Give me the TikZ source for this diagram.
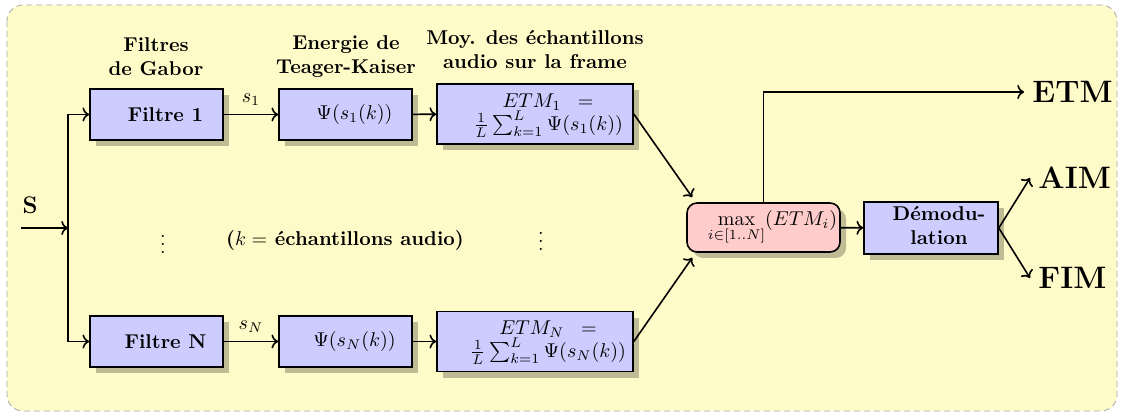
\documentclass[tikz,border=0pt]{standalone}
\usepackage{fontspec}
\usepackage{amsmath}
\usetikzlibrary{shadows,arrows.meta}
\definecolor{bgyellow}{RGB}{255,251,200}
\definecolor{boxblue}{RGB}{204,204,255}
\definecolor{boxpink}{RGB}{255,204,204}
\tikzset{
  blockbox/.style={draw=black, thick, fill=boxblue, inner sep=0pt,
    drop shadow={shadow xshift=3pt, shadow yshift=-3pt, fill=black, opacity=0.25}},
  maxbox/.style={blockbox, fill=boxpink, rounded corners=5pt},
  titletext/.style={align=center, font=\bfseries, inner sep=0pt},
  outtext/.style={font=\fontsize{15.5}{18}\selectfont\bfseries, inner sep=4pt, anchor=west},
  conn/.style={thick, ->},
}
\begin{document}
\begin{tikzpicture}[x=0.5pt, y=-0.5pt]
\useasboundingbox (0,0) rectangle (1122,416);
\draw[gray!70, dash pattern=on 3pt off 2pt, fill=bgyellow, rounded corners=8pt] (7,5) rectangle (1117,411);

% titles
\node[titletext] (t1) at (156,57) {Filtres\\de Gabor};
\node[titletext] (t2) at (346,57) {Energie de\\Teager-Kaiser};
\node[titletext] (t3) at (535,50) {Moy. des échantillons\\audio sur la frame};

% top row
\node[blockbox, minimum width=66.5pt, minimum height=25.5pt] (f1) at (156.5,114.5) {\hspace*{9pt}\textbf{Filtre 1}};
\node[blockbox, minimum width=66.5pt, minimum height=25.5pt] (p1) at (345.5,114.5) {\hspace*{9pt}$\Psi(s_1(k))$};
\node[blockbox, minimum width=98pt, minimum height=30pt] (e1) at (535,114) {\hspace*{13pt}\begin{tabular}{@{}c@{}}$ETM_1\;\;=$\\[-2pt]$\frac{1}{L}\sum_{k=1}^{L}\Psi(s_1(k))$\end{tabular}};

% bottom row
\node[blockbox, minimum width=66.5pt, minimum height=25.5pt] (fN) at (156.5,341.5) {\hspace*{9pt}\textbf{Filtre N}};
\node[blockbox, minimum width=66.5pt, minimum height=25.5pt] (pN) at (345.5,341.5) {\hspace*{9pt}$\Psi(s_N(k))$};
\node[blockbox, minimum width=98pt, minimum height=30pt] (eN) at (535,341.5) {\hspace*{13pt}\begin{tabular}{@{}c@{}}$ETM_N\;\;=$\\[-2pt]$\frac{1}{L}\sum_{k=1}^{L}\Psi(s_N(k))$\end{tabular}};

% middle
\node[inner sep=0pt] (d1) at (163,238) {$\vdots$};
\node[inner sep=0pt] (d2) at (541,235) {$\vdots$};
\node[inner sep=0pt] (kt) at (345,240) {\bfseries ($k=$ échantillons audio)};

\node[maxbox, minimum width=76.5pt, minimum height=24.5pt] (mx) at (763.5,227.5) {\hspace*{9pt}$\max\limits_{i\in[1..N]}(ETM_i)$};
\node[blockbox, minimum width=67pt, minimum height=26pt, align=center] (dm) at (931,228) {\hspace*{8pt}\begin{tabular}{@{}c@{}}\textbf{Démodu-}\\\textbf{lation}\end{tabular}};

% outputs
\node[outtext] (etm) at (1024,92) {ETM};
\node[outtext] (aim) at (1030,178) {AIM};
\node[outtext] (fim) at (1030,278) {FIM};

% input
\node[font=\large\bfseries, inner sep=0pt] (s) at (30,205) {S};
\coordinate (in) at (21,228);
\coordinate (split) at (68,228);

% connectors
\draw[conn] (in) -- (split);
\draw[conn] (split) |- (f1.west);
\draw[conn] (split) |- (fN.west);
\draw[conn] (f1) -- node[above, inner sep=4pt] {$s_1$} (p1);
\draw[conn] (fN) -- node[above, inner sep=4pt] {$s_N$} (pN);
\draw[conn] (p1) -- (e1);
\draw[conn] (pN) -- (eN);
\draw[conn] (e1.east) -- ([xshift=3pt,yshift=2.5pt]mx.north west);
\draw[conn] (eN.east) -- ([xshift=3pt,yshift=-2.5pt]mx.south west);
\draw[conn] (mx) -- (dm);
\draw[conn] (mx.north) |- (etm.west);
\draw[conn] (dm.east) -- (aim.west);
\draw[conn] (dm.east) -- (fim.west);
\end{tikzpicture}
\end{document}
